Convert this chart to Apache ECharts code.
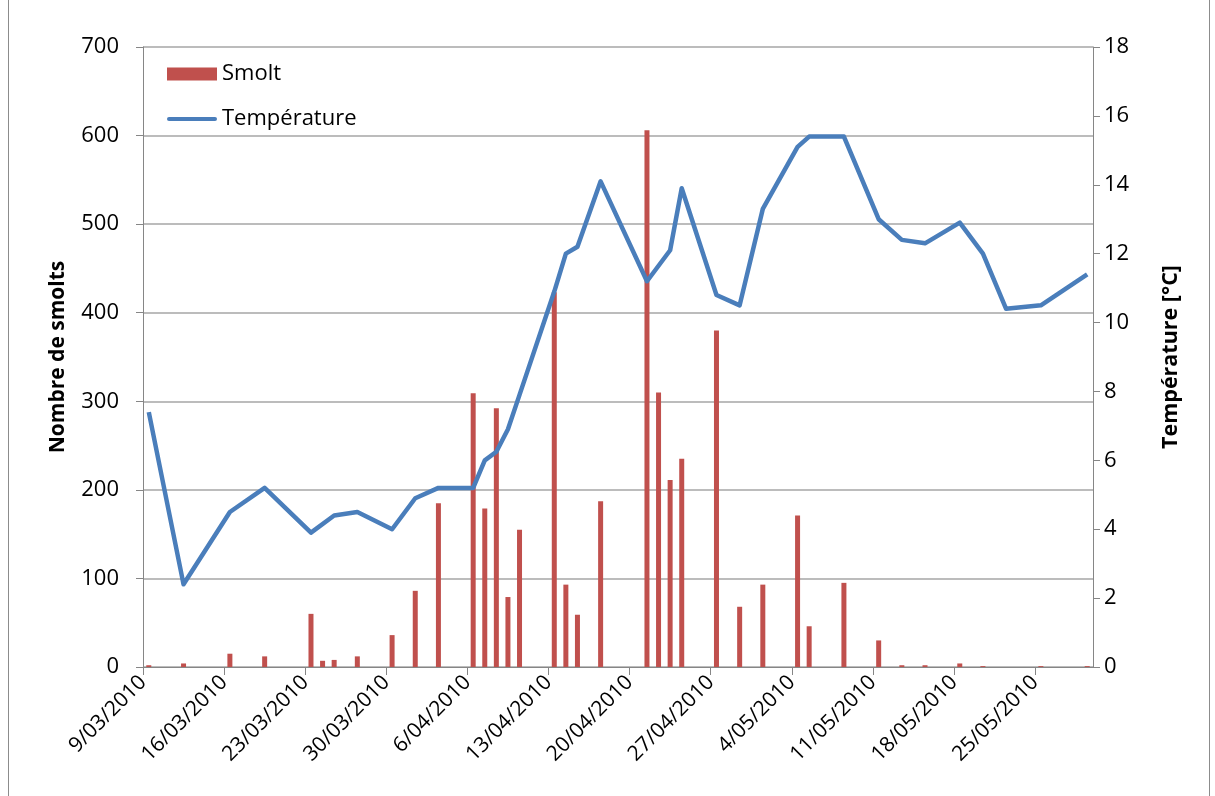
<!DOCTYPE html>
<html>
<head>
<meta charset="utf-8">
<script src="https://cdn.jsdelivr.net/npm/echarts@6/dist/echarts.min.js"></script>
<style>
  html, body { margin: 0; padding: 0; background: #fff; }
  #chart { width: 1215px; height: 796px; }
</style>
</head>
<body>
<div id="chart"></div>
<script>
// Smolt counts per trapping day (dd/mm, 2010)
const smoltDates = ['09/03','12/03','16/03','19/03','23/03','24/03','25/03','27/03','30/03','01/04',
  '03/04','06/04','07/04','08/04','09/04','10/04','13/04','14/04','15/04','17/04',
  '21/04','22/04','23/04','24/04','27/04','29/04','01/05','04/05','05/05','08/05',
  '11/05','13/05','15/05','18/05','20/05','25/05','29/05'];
const smoltCounts = [2, 4, 15, 12, 60, 7, 8, 12, 36, 86,
  185, 309, 179, 292, 79, 155, 423, 93, 59, 187,
  606, 310, 211, 235, 380, 68, 93, 171, 46, 95,
  30, 2, 2, 4, 1, 1, 1];

// Water temperature (°C)
const tempDates = ['09/03','12/03','16/03','19/03','23/03','25/03','27/03','30/03','01/04','03/04',
  '06/04','07/04','08/04','09/04','10/04','13/04','14/04','15/04','17/04','21/04',
  '23/04','24/04','27/04','29/04','01/05','04/05','05/05','08/05','11/05','13/05',
  '15/05','18/05','20/05','22/05','25/05','29/05'];
const tempValues = [7.4, 2.4, 4.5, 5.2, 3.9, 4.4, 4.5, 4.0, 4.9, 5.2,
  5.2, 6.0, 6.25, 6.9, 7.9, 10.9, 12.0, 12.2, 14.1, 11.2,
  12.1, 13.9, 10.8, 10.5, 13.3, 15.1, 15.4, 15.4, 13.0, 12.4,
  12.3, 12.9, 12.0, 10.4, 10.5, 11.4];

// Axis settings
const year = 2010;
const startDay = Date.UTC(year, 2, 9);      // 9/03/2010
const dayMs = 86400000;
const nDays = 82;                           // 9/03 .. 29/05
const tickStepDays = 7;
const countTicks = { min: 0, max: 700, step: 100 };
const tempTicks = { min: 0, max: 18, step: 2 };

// day slot index of a dd/mm date; marks sit in the middle of their day slot
function dayIndex(s) {
  const [d, m] = s.split('/').map(Number);
  return Math.round((Date.UTC(year, m - 1, d) - startDay) / dayMs);
}
function slotCentre(s) { return dayIndex(s) + 0.5; }

function dateLabel(v) {
  if (v % tickStepDays !== 0 || v >= nDays) return '';
  const dt = new Date(startDay + v * dayMs);
  const mm = String(dt.getUTCMonth() + 1).padStart(2, '0');
  return dt.getUTCDate() + '/' + mm + '/' + dt.getUTCFullYear();
}

const smoltData = smoltDates.map((d, i) => [slotCentre(d), smoltCounts[i]]);
const tempData = tempDates.map((d, i) => [slotCentre(d), tempValues[i]]);

const FONT = '"Open Sans", "Liberation Sans", Arial, sans-serif';
const axisGrey = '#868686';
const lineBlue = '#4a7ebb';

const chart = echarts.init(document.getElementById('chart'));
chart.setOption({
  animation: false,
  backgroundColor: '#fff',
  textStyle: { fontFamily: FONT },
  graphic: [{
    type: 'rect',
    shape: { x: 8.5, y: -2, width: 1201, height: 800 },
    style: { fill: 'none', stroke: '#8c8c8c', lineWidth: 1 },
    silent: true
  }],
  grid: { left: 143, right: 122, top: 47, bottom: 129 },
  legend: {
    orient: 'vertical',
    left: 162,
    top: 58,
    itemWidth: 50,
    itemHeight: 13,
    itemGap: 23,
    itemStyle: { borderWidth: 0 },
    textStyle: { fontFamily: FONT, fontSize: 22, color: '#000' },
    data: [
      { name: 'Smolt', icon: 'rect' },
      { name: 'Température', icon: 'path://M2,0 L48,0 A2,2 0 0 1 48,4 L2,4 A2,2 0 0 1 2,0 Z' }
    ]
  },
  xAxis: {
    type: 'value',
    min: 0,
    max: nDays,
    interval: tickStepDays,
    splitLine: { show: false },
    axisLine: { lineStyle: { color: axisGrey, width: 1 } },
    axisTick: { show: true, length: 8, lineStyle: { color: axisGrey } },
    axisLabel: {
      rotate: 45,
      margin: 12,
      fontSize: 21,
      color: '#000',
      fontFamily: FONT,
      showMaxLabel: false,
      formatter: dateLabel
    }
  },
  yAxis: [{
    type: 'value',
    min: countTicks.min,
    max: countTicks.max,
    interval: countTicks.step,
    name: 'Nombre de smolts',
    nameLocation: 'middle',
    nameRotate: 90,
    nameGap: 74,
    nameTextStyle: { fontFamily: FONT, fontSize: 21, fontWeight: 'bold', color: '#000' },
    axisLine: { show: true, lineStyle: { color: axisGrey } },
    axisTick: { show: true, length: 7, lineStyle: { color: axisGrey } },
    axisLabel: { fontSize: 22, color: '#000', margin: 24, fontFamily: FONT },
    splitLine: { show: true, lineStyle: { color: '#a6a6a6', width: 1.5 } }
  }, {
    type: 'value',
    position: 'right',
    min: tempTicks.min,
    max: tempTicks.max,
    interval: tempTicks.step,
    name: 'Température [°C]',
    nameLocation: 'middle',
    nameRotate: 90,
    nameGap: 67,
    nameTextStyle: { fontFamily: FONT, fontSize: 21.5, fontWeight: 'bold', color: '#000' },
    axisLine: { show: true, lineStyle: { color: axisGrey } },
    axisTick: { show: true, length: 7, lineStyle: { color: axisGrey } },
    axisLabel: { fontSize: 22, color: '#000', margin: 11, fontFamily: FONT },
    splitLine: { show: false }
  }],
  series: [{
    name: 'Smolt',
    type: 'bar',
    yAxisIndex: 0,
    barWidth: 5,
    itemStyle: { color: '#c0504d' },
    data: smoltData
  }, {
    name: 'Température',
    type: 'line',
    yAxisIndex: 1,
    symbol: 'none',
    lineStyle: { color: lineBlue, width: 4.5, join: 'round' },
    itemStyle: { color: lineBlue },
    data: tempData
  }]
});
</script>
</body>
</html>
